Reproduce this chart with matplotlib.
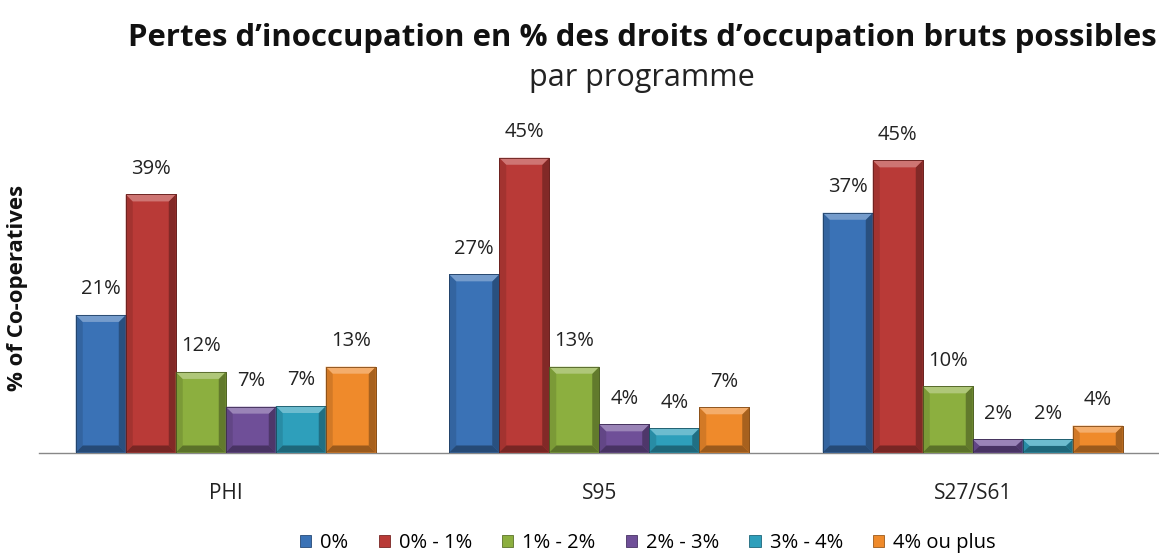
import matplotlib
matplotlib.use("Agg")
import matplotlib.pyplot as plt
import numpy as np
from matplotlib.patches import Polygon, Rectangle
import matplotlib.colors as mcolors

plt.rcParams['font.family'] = ['Open Sans', 'DejaVu Sans']

programmes = ["PHI", "S95", "S27/S61"]
series = ["0%", "0% - 1%", "1% - 2%", "2% - 3%", "3% - 4%", "4% ou plus"]
v_0 = [21.0, 27.2, 36.6]
v_0_1 = [39.4, 45.0, 44.6]
v_1_2 = [12.3, 13.1, 10.1]
v_2_3 = [7.0, 4.3, 2.0]
v_3_4 = [7.1, 3.7, 2.0]
v_4p = [13.1, 6.9, 4.1]
values = [v_0, v_0_1, v_1_2, v_2_3, v_3_4, v_4p]
colors = ["#3A72B6", "#B93A37", "#8CAF3F", "#6F4F98", "#2E9FBB", "#EF8A2B"]

W, H = 1159, 554
fig = plt.figure(figsize=(W / 100, H / 100), dpi=100)
ax = fig.add_axes([39 / W, (H - 452.5) / H, 1120.5 / W, 327.5 / H])

n = len(series)
bw = 50 / 373.5
x = np.arange(len(programmes))
ax.set_xlim(-0.5, len(programmes) - 0.5)
ax.set_ylim(0, 50)


def shade(c, f):
    r, g, b = mcolors.to_rgb(c)
    if f > 0:
        return (r + (1 - r) * f, g + (1 - g) * f, b + (1 - b) * f)
    return (r * (1 + f), g * (1 + f), b * (1 + f))


px_x = 1 / 373.5
px_y = 50 / 327.5
bev = 7

for i, (s, vals, col) in enumerate(zip(series, values, colors)):
    offs = x + (i - (n - 1) / 2) * bw
    bars = ax.bar(offs, vals, width=bw, color=col, edgecolor=shade(col, -0.35),
                  linewidth=0.6, label=s, zorder=2)
    for b, v in zip(bars, vals):
        x0, w, h = b.get_x(), b.get_width(), b.get_height()
        bx = min(bev * px_x, w / 2)
        by = min(bev * px_y, h / 2)
        ax.add_patch(Polygon([(x0, 0), (x0 + bx, by), (x0 + bx, h - by), (x0, h)],
                             closed=True, facecolor=shade(col, -0.12), edgecolor='none', zorder=3))
        ax.add_patch(Polygon([(x0 + w, 0), (x0 + w - bx, by), (x0 + w - bx, h - by), (x0 + w, h)],
                             closed=True, facecolor=shade(col, -0.3), edgecolor='none', zorder=3))
        ax.add_patch(Polygon([(x0, h), (x0 + bx, h - by), (x0 + w - bx, h - by), (x0 + w, h)],
                             closed=True, facecolor=shade(col, 0.3), edgecolor='none', zorder=3))
        ax.add_patch(Polygon([(x0, 0), (x0 + bx, by), (x0 + w - bx, by), (x0 + w, 0)],
                             closed=True, facecolor=shade(col, -0.35), edgecolor='none', zorder=3))
        ax.add_patch(Rectangle((x0, 0), w, h, fill=False, edgecolor=shade(col, -0.45),
                               linewidth=0.6, zorder=4))
        ax.text(x0 + w / 2, h + 2.4, f"{v:.0f}%", ha='center', va='bottom',
                fontsize=14.5, color='#222222', zorder=5)

for sp in ['top', 'right', 'left']:
    ax.spines[sp].set_visible(False)
ax.spines['bottom'].set_color('#888888')
ax.spines['bottom'].set_linewidth(1.0)
ax.set_yticks([])
ax.set_xticks(x)
ax.set_xticklabels(programmes, fontsize=15, color='#222222')
ax.tick_params(axis='x', length=0, pad=22)

fig.text(18 / W, 1 - 288 / H, "% of Co-operatives", rotation=90, ha='center', va='center',
         fontsize=16, fontweight='bold', color='#111111')

fig.text(642 / W, 1 - 38 / H, "Pertes d\u2019inoccupation en % des droits d\u2019occupation bruts possibles",
         ha='center', va='center', fontsize=22.4, fontweight='bold', color='#111111')
fig.text(642 / W, 1 - 78 / H, "par programme", ha='center', va='center', fontsize=22,
         color='#222222')

leg = fig.legend(loc='center', bbox_to_anchor=(648 / W, 1 - 543 / H), ncol=6, frameon=False,
                 fontsize=14.5, handlelength=0.55, handleheight=0.55, handletextpad=0.45,
                 columnspacing=1.5)

fig.savefig("out.png", dpi=100)
